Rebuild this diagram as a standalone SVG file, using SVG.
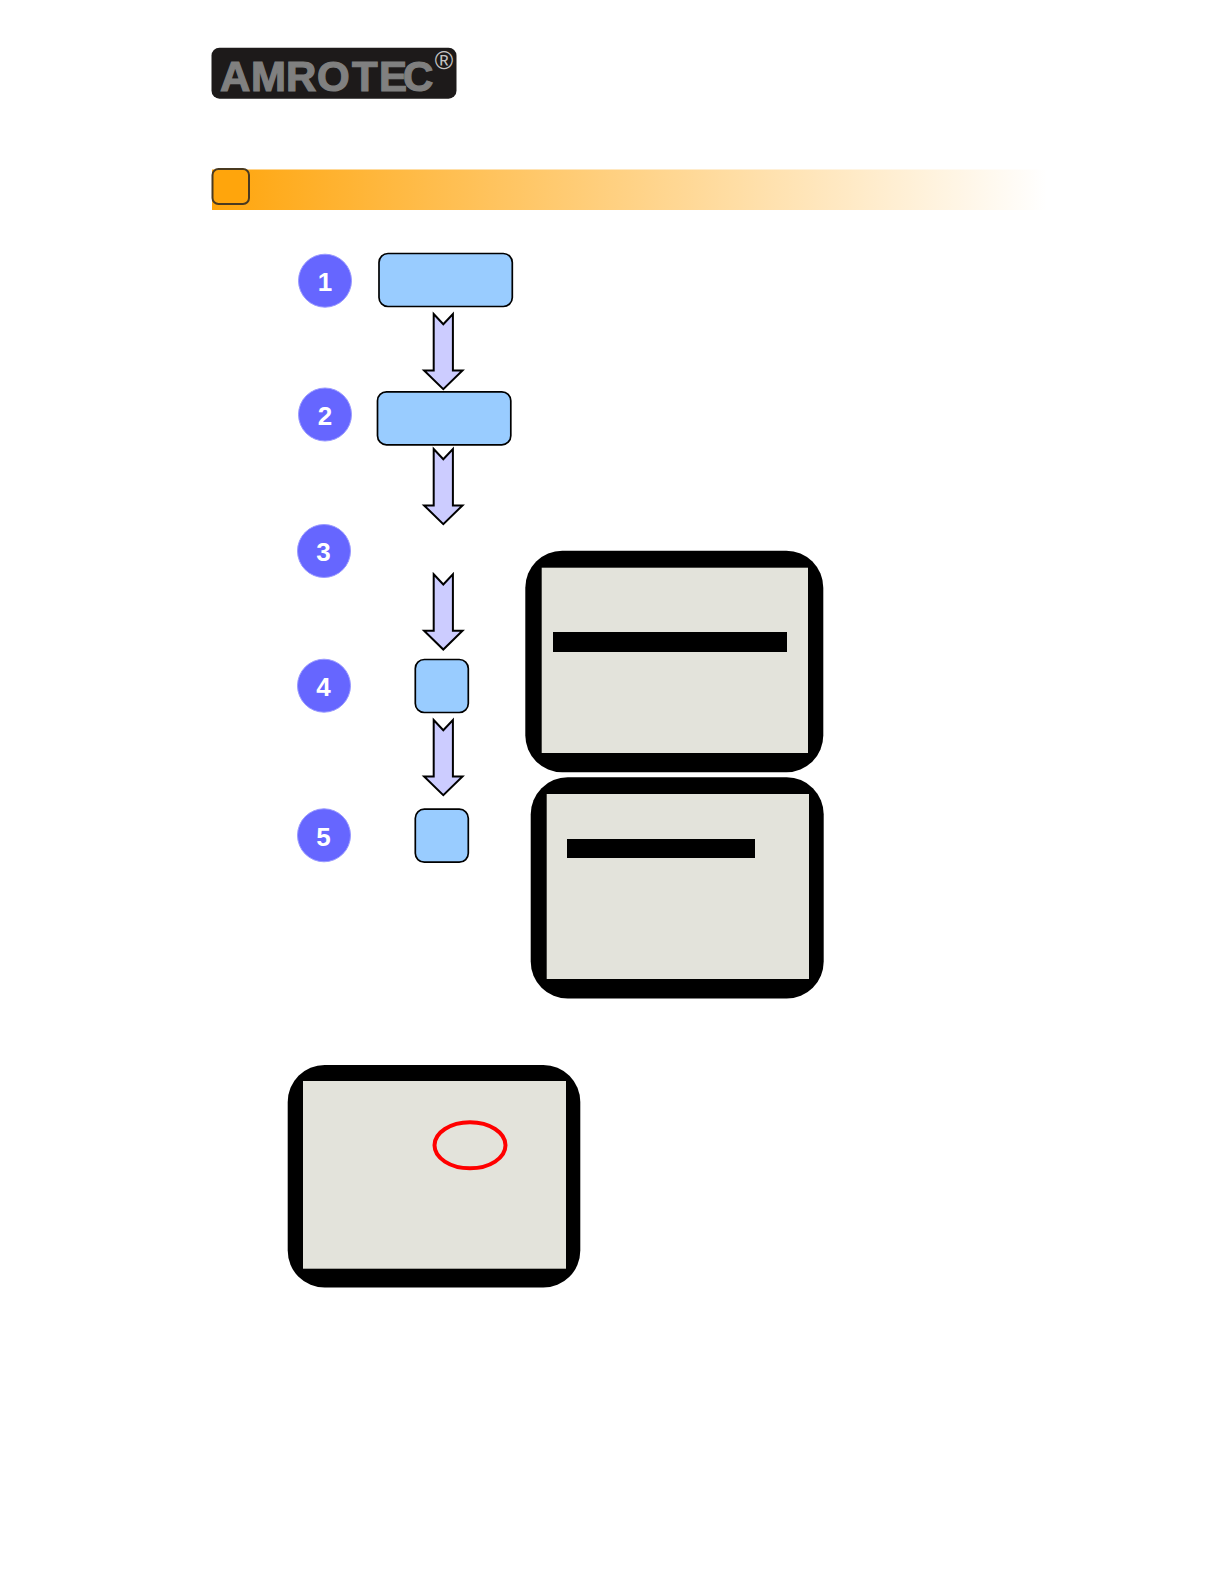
<svg xmlns="http://www.w3.org/2000/svg" width="1225" height="1585" viewBox="0 0 1225 1585">
<style>
.badge{fill:#6666ff;stroke:#9a9aff;stroke-width:1}
.num{font-family:"Liberation Sans",Arial,sans-serif;font-weight:700;font-size:26px;fill:#fff;text-anchor:middle}
.step{fill:#99ccff;stroke:#000;stroke-width:1.7}
.arrow{fill:#ccccff;stroke:#000;stroke-width:2;stroke-linejoin:miter}
.frame{fill:#000}
.screen{fill:#e3e3db}
</style>
<defs>
<linearGradient id="barGrad" gradientUnits="userSpaceOnUse" x1="212" y1="0" x2="1047" y2="0">
<stop offset="0" stop-color="#ffa50c"/>
<stop offset="1" stop-color="#ffffff"/>
</linearGradient>
<path id="blockArrow" d="M-9.6 0L0 10.2L9.6 0V56.4H19.2L0 75.2L-19.2 56.4H-9.6Z"/>
</defs>
<rect width="1225" height="1585" fill="#fff"/>
<g id="logo">
<rect x="211.5" y="47.7" width="245" height="51" rx="8" fill="#1d1a1a"/>
<text x="220 251 286 317 352 379 403" y="90.5" font-family="'Liberation Sans',Arial,sans-serif" font-weight="700" font-size="42" fill="#808080" stroke="#808080" stroke-width="1.2">AMROTEC</text>
<text x="444" y="69" text-anchor="middle" font-family="'Liberation Sans',Arial,sans-serif" font-size="25" fill="#c4c4c4">®</text>
</g>
<g id="header">
<rect x="212" y="169.5" width="835" height="40.5" fill="url(#barGrad)"/>
<rect x="212.5" y="169" width="36.5" height="35" rx="6" fill="#ffa50c" stroke="#4a3a20" stroke-width="2"/>
</g>
<g id="connectors">
<use href="#blockArrow" class="arrow" x="443.3" y="314"/>
<use href="#blockArrow" class="arrow" x="443.3" y="449"/>
<use href="#blockArrow" class="arrow" x="443.3" y="574.3"/>
<use href="#blockArrow" class="arrow" x="443.3" y="720"/>
</g>
<g id="step1"><circle class="badge" cx="325" cy="280.7" r="26.5"/><text class="num" x="325" y="291">1</text><rect class="step" x="379" y="253.5" width="133.3" height="53" rx="9"/></g>
<g id="step2"><circle class="badge" cx="325" cy="414.5" r="26.5"/><text class="num" x="325" y="425">2</text><rect class="step" x="377.5" y="391.8" width="133.3" height="53" rx="9"/></g>
<g id="step3"><circle class="badge" cx="324" cy="551" r="26.5"/><text class="num" x="323.5" y="561">3</text></g>
<g id="step4"><circle class="badge" cx="324" cy="685.7" r="26.5"/><text class="num" x="323.5" y="696">4</text><rect class="step" x="415.3" y="659.5" width="53" height="53" rx="9"/></g>
<g id="step5"><circle class="badge" cx="324" cy="835.3" r="26.5"/><text class="num" x="323.5" y="845.5">5</text><rect class="step" x="415.3" y="809.2" width="53" height="53" rx="9"/></g>
<g id="screen1">
<rect class="frame" x="525.3" y="550.7" width="298" height="221.6" rx="37"/>
<rect class="screen" x="541.7" y="567.7" width="266.3" height="185.3"/>
<rect class="frame" x="553" y="632" width="234" height="20"/>
</g>
<g id="screen2">
<rect class="frame" x="530.7" y="777.3" width="293" height="221.3" rx="37"/>
<rect class="screen" x="546.7" y="794" width="262.3" height="185"/>
<rect class="frame" x="567" y="839" width="188" height="19"/>
</g>
<g id="screen3">
<rect class="frame" x="287.7" y="1065" width="292.6" height="222.6" rx="37"/>
<rect class="screen" x="303" y="1081" width="263" height="187.7"/>
<ellipse cx="470" cy="1145.3" rx="35.5" ry="23" fill="none" stroke="#ff0000" stroke-width="4"/>
</g>
</svg>
